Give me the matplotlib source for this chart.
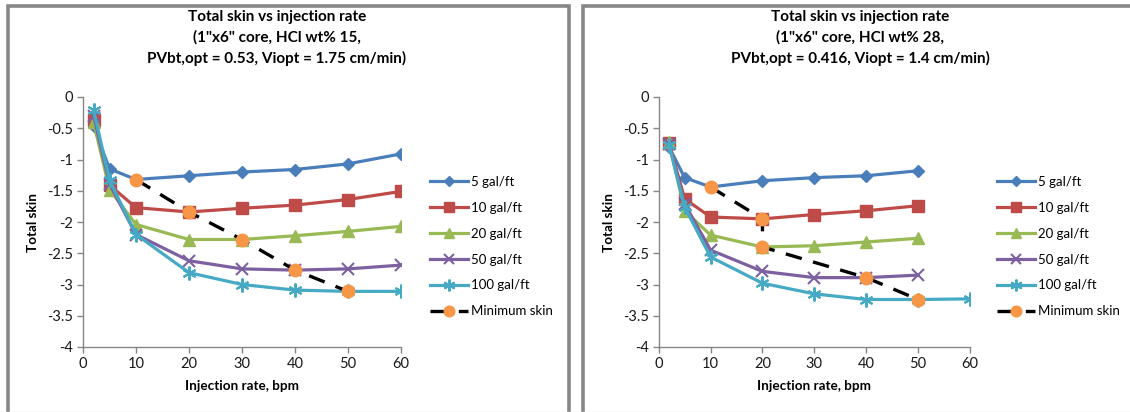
import matplotlib
matplotlib.use("Agg")
import matplotlib.pyplot as plt
from matplotlib.lines import Line2D

plt.rcParams['font.family'] = ['Lato', 'DejaVu Sans']

# ---- data ----
rates = [2, 5, 10, 20, 30, 40, 50, 60]
series_names = ["5 gal/ft", "10 gal/ft", "20 gal/ft", "50 gal/ft", "100 gal/ft"]

# HCl 15 wt%
skin15_5 = [-0.47, -1.15, -1.32, -1.26, -1.20, -1.16, -1.07, -0.91]
skin15_10 = [-0.37, -1.41, -1.77, -1.84, -1.78, -1.73, -1.64, -1.51]
skin15_20 = [-0.40, -1.48, -2.04, -2.28, -2.28, -2.22, -2.15, -2.07]
skin15_50 = [-0.30, -1.39, -2.20, -2.62, -2.75, -2.77, -2.75, -2.69]
skin15_100 = [-0.21, -1.33, -2.20, -2.81, -3.00, -3.09, -3.11, -3.11]
min15_x = [10, 20, 30, 40, 50]
min15_y = [-1.32, -1.84, -2.28, -2.77, -3.11]

# HCl 28 wt%
rates28 = [2, 5, 10, 20, 30, 40, 50]
rates28_100 = [2, 5, 10, 20, 30, 40, 50, 60]
skin28_5 = [-0.80, -1.29, -1.44, -1.34, -1.29, -1.26, -1.18]
skin28_10 = [-0.74, -1.63, -1.92, -1.95, -1.88, -1.82, -1.74]
skin28_20 = [-0.72, -1.82, -2.21, -2.40, -2.38, -2.32, -2.26]
skin28_50 = [-0.75, -1.71, -2.45, -2.79, -2.89, -2.89, -2.85]
skin28_100 = [-0.77, -1.76, -2.56, -2.98, -3.15, -3.24, -3.24, -3.23]
min28_x = [10, 20, 20, 40, 50]
min28_y = [-1.44, -1.95, -2.40, -2.89, -3.24]

titles = [
    'Total skin vs injection rate\n(1"x6" core, HCl wt% 15,\nPVbt,opt = 0.53, Viopt = 1.75 cm/min)',
    'Total skin vs injection rate\n(1"x6" core, HCl wt% 28,\nPVbt,opt = 0.416, Viopt = 1.4 cm/min)',
]

colors = ["#4A7EBB", "#BE4B48", "#98B954", "#7D60A0", "#46AAC5"]
markers = ["D", "s", "^", "x", (6, 2, 0)]
msizes = [6, 8, 8, 8, 10]
orange = "#F79646"

W, H = 1130, 412
fig = plt.figure(figsize=(W / 100, H / 100), dpi=100)
fig.patch.set_facecolor("white")

# panel frames
frame_c = "#878787"
top_y = H - 5.5
for (x0, x1, closed) in [(7.5, 568.5, True), (582.5, 1135, False)]:
    xs = [x0, x0, x1] + ([x1] if closed else [])
    ys = [0, top_y, top_y] + ([0] if closed else [])
    fig.add_artist(Line2D([x / W for x in xs], [y / H for y in ys],
                          color=frame_c, lw=2.6, transform=fig.transFigure,
                          solid_joinstyle="miter"))
fig.add_artist(Line2D([0, 1], [0.5 / H, 0.5 / H], color="#E6E6E6", lw=1,
                      transform=fig.transFigure))


def make_axes(left_px, right_px):
    top_px, bot_px = 97, 347
    return fig.add_axes([left_px / W, 1 - bot_px / H,
                         (right_px - left_px) / W, (bot_px - top_px) / H])


panels = [
    dict(ax=make_axes(83, 401), x=[rates] * 5,
         y=[skin15_5, skin15_10, skin15_20, skin15_50, skin15_100],
         mx=min15_x, my=min15_y, title=titles[0], tcx=277,
         leg_x=430),
    dict(ax=make_axes(658.7, 970), x=[rates28] * 4 + [rates28_100],
         y=[skin28_5, skin28_10, skin28_20, skin28_50, skin28_100],
         mx=min28_x, my=min28_y, title=titles[1], tcx=860,
         leg_x=997),
]

for p in panels:
    ax = p["ax"]
    handles = []
    for xs, ys, name, c, m, ms in zip(p["x"], p["y"], series_names, colors, markers, msizes):
        mew = 1.5 if m in ("x",) or isinstance(m, tuple) else 1
        h, = ax.plot(xs, ys, color=c, lw=2.3, marker=m, markersize=ms,
                     markerfacecolor=c, markeredgecolor=c, markeredgewidth=mew,
                     label=name, zorder=3)
        handles.append(h)
    hm, = ax.plot(p["mx"], p["my"], color="black", lw=2.4, dashes=(5, 3.5),
                  marker="o", markersize=9, markerfacecolor=orange,
                  markeredgecolor=orange, label="Minimum skin", zorder=4)
    handles.append(hm)

    ax.set_xlim(0, 60)
    ax.set_ylim(-4, 0)
    ax.set_xticks(range(0, 61, 10))
    ax.set_yticks([0, -0.5, -1, -1.5, -2, -2.5, -3, -3.5, -4])
    ax.set_yticklabels(["0", "-0.5", "-1", "-1.5", "-2", "-2.5", "-3", "-3.5", "-4"])
    for s in ("top", "right"):
        ax.spines[s].set_visible(False)
    for s in ("left", "bottom"):
        ax.spines[s].set_color("#868686")
        ax.spines[s].set_linewidth(1.0)
    ax.tick_params(axis="both", direction="out", length=4, width=1,
                   color="#868686", labelsize=10.5, labelcolor="#1a1a1a", pad=3)
    ax.set_xlabel("Injection rate, bpm", fontsize=9.7, fontweight="bold", labelpad=7)
    ax.set_ylabel("Total skin", fontsize=9.7, fontweight="bold", labelpad=6)

    fig.text(p["tcx"] / W, 1 - 10 / H, p["title"], ha="center", va="top",
             fontsize=11, fontweight="bold", linespacing=1.55)

    leg = ax.legend(handles=handles, loc="upper left",
                    bbox_to_anchor=(p["leg_x"] / W, 1 - 176 / H),
                    bbox_transform=fig.transFigure, frameon=False,
                    fontsize=9.5, handlelength=2.9, handletextpad=0.2,
                    labelspacing=1.05, borderaxespad=0, borderpad=0)
    for lh in leg.legend_handles:
        lh.set_markersize(lh.get_markersize() * 0.85)

fig.savefig("out.png", dpi=100, facecolor="white")
